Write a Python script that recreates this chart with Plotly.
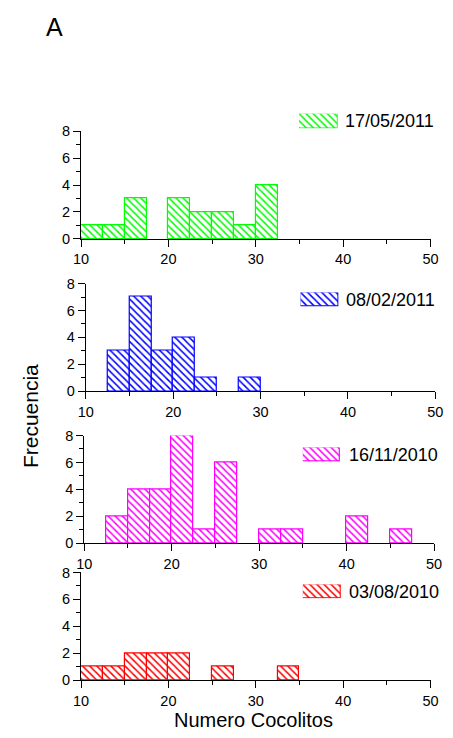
import plotly.graph_objects as go

W, H = 453, 738

bin_width = 2.5
bin_starts = [10 + 2.5 * i for i in range(16)]  # 10 .. 47.5

dates = ["17/05/2011", "08/02/2011", "16/11/2010", "03/08/2010"]
colors = ["#00ff00", "#0000ff", "#ff00ff", "#ff0000"]

counts_170511 = [1, 1, 3, 0, 3, 2, 2, 1, 4, 0, 0, 0, 0, 0, 0, 0]
counts_080211 = [0, 3, 7, 3, 4, 1, 0, 1, 0, 0, 0, 0, 0, 0, 0, 0]
counts_161110 = [0, 2, 4, 4, 8, 1, 6, 0, 1, 1, 0, 0, 2, 0, 1, 0]
counts_030810 = [1, 1, 2, 2, 2, 0, 1, 0, 0, 1, 0, 0, 0, 0, 0, 0]
all_counts = [counts_170511, counts_080211, counts_161110, counts_030810]

x_ticks = [10, 20, 30, 40, 50]
y_ticks = [0, 2, 4, 6, 8]

# pixel geometry (left, right, top(y8), bottom(y0))
panels_px = [(75.7, 438, 126, 236), (80.7, 443, 281.7, 391.7),
             (79, 441.7, 437, 547), (75.7, 438, 577, 687)]
swatch_px = [(301.7, 341.7, 108, 123), (303.3, 342.7, 290.7, 305),
             (305.7, 344.3, 449.3, 463.7), (305.7, 345, 589.3, 603.3)]
label_px = [(347, 115.5), (348, 298), (351.5, 456.5), (351, 596.5)]

fig = go.Figure()
layout = dict()
font = "Liberation Sans, Arial, sans-serif"

pattern_kw = dict(shape="\\", bgcolor="white", size=5, solidity=0.3, fillmode="replace")

for i in range(4):
    xa = "x" if i == 0 else f"x{i+1}"
    ya = "y" if i == 0 else f"y{i+1}"
    nonzero = [(b, c) for b, c in zip(bin_starts, all_counts[i]) if c > 0]
    fig.add_trace(go.Bar(
        x=[b for b, c in nonzero], y=[c for b, c in nonzero],
        offset=0, width=bin_width, xaxis=xa, yaxis=ya,
        marker=dict(color="white", line=dict(color=colors[i], width=1.2),
                    pattern=dict(fgcolor=colors[i], **pattern_kw)),
        showlegend=False, cliponaxis=False))
    l, r, t, b = panels_px[i]
    key = "" if i == 0 else str(i + 1)
    layout["xaxis" + key] = dict(
        domain=[l / W, r / W], range=[10, 50], anchor=ya, showgrid=False, zeroline=False,
        showline=True, linecolor="black", linewidth=1.2, tickmode="array", tickvals=x_ticks,
        ticks="outside", ticklen=7, tickwidth=1.2, tickcolor="black",
        minor=dict(ticks="outside", ticklen=4, tickwidth=1.2, tickcolor="black", dtick=5, tick0=10),
        tickfont=dict(family=font, size=14.5, color="black"), fixedrange=True)
    layout["yaxis" + key] = dict(
        domain=[1 - b / H, 1 - t / H], range=[0, 8], anchor=xa, showgrid=False, zeroline=False,
        showline=True, linecolor="black", linewidth=1.2, tickmode="array", tickvals=y_ticks,
        ticks="outside", ticklen=7, tickwidth=1.2, tickcolor="black",
        minor=dict(ticks="outside", ticklen=4, tickwidth=1.2, tickcolor="black", dtick=1, tick0=0),
        tickfont=dict(family=font, size=14.5, color="black"), fixedrange=True)

    # legend swatch on its own tiny axis
    sl, sr, st, sb = swatch_px[i]
    sxa = f"x{i+5}"
    sya = f"y{i+5}"
    fig.add_trace(go.Bar(
        x=[0], y=[1], offset=0, width=1, xaxis=sxa, yaxis=sya,
        marker=dict(color="white", line=dict(color=colors[i], width=1.2),
                    pattern=dict(fgcolor=colors[i], **pattern_kw)),
        showlegend=False, cliponaxis=False, hoverinfo="skip"))
    layout[f"xaxis{i+5}"] = dict(domain=[sl / W, sr / W], range=[0, 1], visible=False,
                                 anchor=sya, fixedrange=True)
    layout[f"yaxis{i+5}"] = dict(domain=[1 - sb / H, 1 - st / H], range=[0, 1], visible=False,
                                 anchor=sxa, fixedrange=True)

annotations = []
for i in range(4):
    lx, ly = label_px[i]
    annotations.append(dict(text=dates[i], x=lx / W, y=1 - ly / H, xref="paper", yref="paper",
                            xanchor="left", yanchor="middle", showarrow=False,
                            font=dict(family=font, size=18, color="black")))
annotations.append(dict(text="Numero Cocolitos", x=255 / W, y=1 - 728 / H, xref="paper",
                        yref="paper", xanchor="center", yanchor="middle", showarrow=False,
                        font=dict(family=font, size=20, color="black")))
annotations.append(dict(text="Frecuencia", x=24 / W, y=1 - 417 / H, xref="paper",
                        yref="paper", xanchor="center", yanchor="middle", showarrow=False,
                        textangle=-90, font=dict(family=font, size=21, color="black")))
annotations.append(dict(text="A", x=48 / W, y=1 - 19 / H, xref="paper",
                        yref="paper", xanchor="center", yanchor="middle", showarrow=False,
                        font=dict(family=font, size=25, color="black")))

fig.update_layout(width=W, height=H, margin=dict(l=0, r=0, t=0, b=0),
                  paper_bgcolor="white", plot_bgcolor="white", bargap=0,
                  annotations=annotations, **layout)

fig.write_html("out.html", config=dict(displayModeBar=False))
